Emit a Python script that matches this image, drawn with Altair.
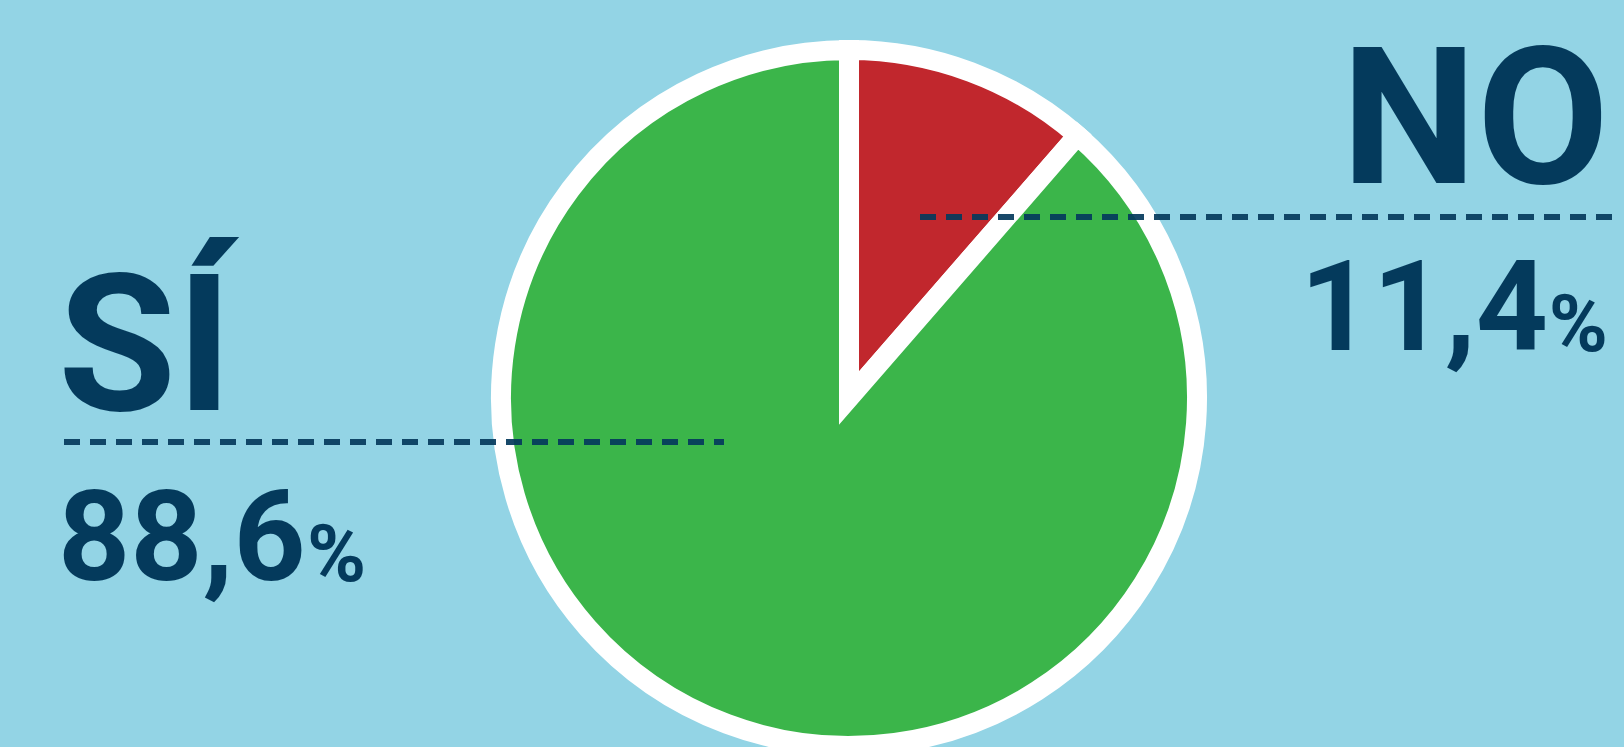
import altair as alt
import pandas as pd

# ---- data ----
categories = ["NO", "SÍ"]
values = [11.4, 88.6]
slice_colors = ["#C1272D", "#3BB54A"]

numbers = [f"{v:.1f}".replace(".", ",") for v in values]
df = pd.DataFrame({
    "category": categories,
    "value": values,
    "order": list(range(len(categories))),
    "number": numbers,
    "pct": ["%"] * len(categories),
})

# ---- style / layout ----
W, H = 1624, 747
BG = "#93D4E5"
NAVY = "#043A5C"
FONT = "Roboto"
CX, CY, R = 849, 398, 348
NAME_SIZE, NUM_SIZE, PCT_SIZE = 192, 126, 80

layout = {
    "NO": dict(align="right", name_x=1609, name_y=183, num_x=1548, num_y=350,
               pct_x=1608, pct_y=351, pct_align="right",
               line_x=920, line_x2=1616, line_y=217),
    "SÍ": dict(align="left", name_x=58, name_y=410, num_x=58, num_y=580,
               pct_x=307, pct_y=581, pct_align="left",
               line_x=64, line_x2=724, line_y=442),
}

base = alt.Chart(df)

pie = base.mark_arc(
    radius=R, stroke="white", strokeWidth=20, strokeJoin="miter", strokeMiterLimit=10
).encode(
    theta=alt.Theta("value:Q", stack=True),
    color=alt.Color("category:N", scale=alt.Scale(domain=categories, range=slice_colors), legend=None),
    order=alt.Order("order:Q"),
    x=alt.value(CX),
    y=alt.value(CY),
)

layers = [pie]
for cat in categories:
    L = layout[cat]
    sub = base.transform_filter(alt.datum.category == cat)
    line = sub.mark_rule(
        strokeDash=[16, 10], strokeWidth=6, color=NAVY, opacity=0.92
    ).encode(
        x=alt.value(L["line_x"]), x2=alt.value(L["line_x2"]), y=alt.value(L["line_y"])
    )
    name = sub.mark_text(
        font=FONT, fontWeight="bold", fontSize=NAME_SIZE, color=NAVY,
        align=L["align"], baseline="alphabetic"
    ).encode(text="category:N", x=alt.value(L["name_x"]), y=alt.value(L["name_y"]))
    num = sub.mark_text(
        font=FONT, fontWeight="bold", fontSize=NUM_SIZE, color=NAVY,
        align=L["align"], baseline="alphabetic"
    ).encode(text="number:N", x=alt.value(L["num_x"]), y=alt.value(L["num_y"]))
    pct = sub.mark_text(
        font=FONT, fontWeight="bold", fontSize=PCT_SIZE, color=NAVY,
        align=L["pct_align"], baseline="alphabetic"
    ).encode(text="pct:N", x=alt.value(L["pct_x"]), y=alt.value(L["pct_y"]))
    layers += [line, name, num, pct]

chart = alt.layer(*layers).properties(
    width=W, height=H, background=BG, padding=0,
    autosize=alt.AutoSizeParams(type="none"),
).configure_view(strokeWidth=0)

chart.save("out.html", embed_options={"renderer": "svg", "actions": False})
